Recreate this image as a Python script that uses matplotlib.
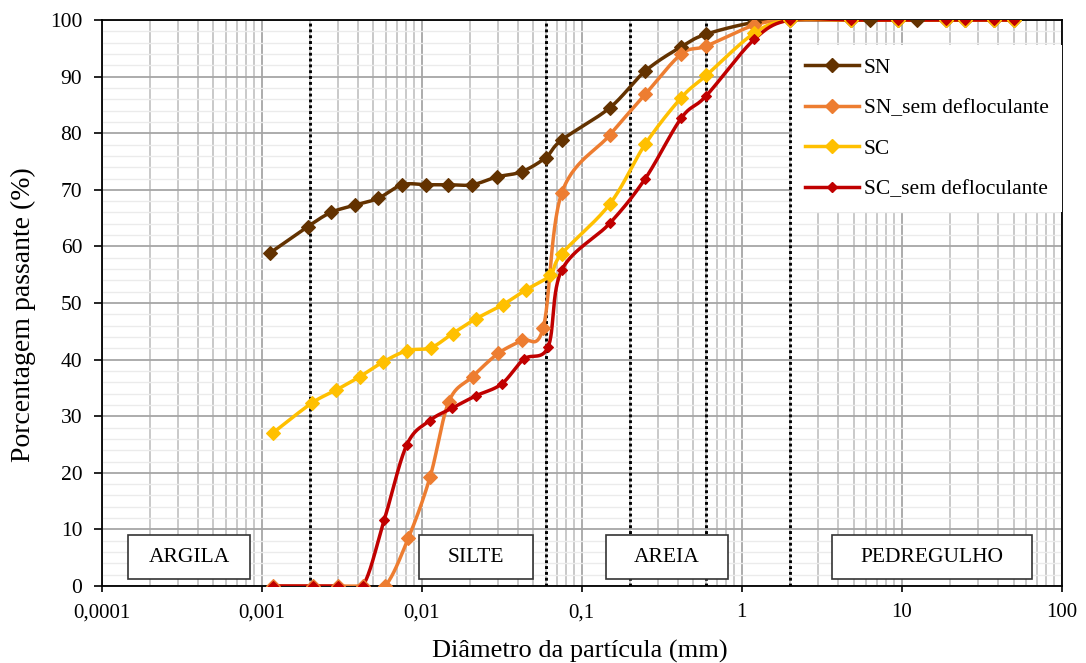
import matplotlib
matplotlib.use("Agg")
import matplotlib.pyplot as plt
from matplotlib.patches import Rectangle
import numpy as np

plt.rcParams['font.family'] = ['Liberation Serif', 'DejaVu Serif']

# diametro (mm) e porcentagem passante (%)
sn_d = [0.00112, 0.00194, 0.00271, 0.00383, 0.00535, 0.00756, 0.0107, 0.0147, 0.0207,
        0.0297, 0.0422, 0.0596, 0.075, 0.15, 0.25, 0.42, 0.6, 1.2, 2.0, 4.8, 6.3, 9.5,
        12.5, 19, 25, 38, 50]
sn_p = [58.8, 63.5, 66.0, 67.3, 68.5, 70.9, 70.9, 70.9, 70.9, 72.3, 73.2, 75.7, 78.8,
        84.5, 91.0, 95.3, 97.5, 99.6, 100, 100, 100, 100, 100, 100, 100, 100, 100]

snsd_d = [0.00118, 0.0021, 0.00301, 0.00428, 0.0059, 0.00824, 0.0113, 0.0148, 0.0208,
          0.0301, 0.0422, 0.0575, 0.075, 0.15, 0.25, 0.42, 0.6, 1.2, 2.0, 4.8, 9.5,
          19, 25, 38, 50]
snsd_p = [0, 0, 0, 0, 0, 8.4, 19.3, 32.6, 37.0, 41.1, 43.4, 45.6, 69.4, 79.7, 86.9,
          94.0, 95.4, 99.1, 100, 100, 100, 100, 100, 100, 100]

sc_d = [0.00117, 0.00205, 0.00291, 0.00411, 0.00575, 0.00813, 0.0114, 0.0156, 0.0218,
        0.0321, 0.0447, 0.0634, 0.075, 0.15, 0.25, 0.42, 0.6, 1.2, 2.0, 4.8, 9.5, 19,
        25, 38, 50]
sc_p = [27.0, 32.3, 34.6, 37.0, 39.6, 41.6, 42.1, 44.6, 47.2, 49.7, 52.3, 54.9, 58.7,
        67.5, 78.1, 86.3, 90.2, 97.7, 100, 100, 100, 100, 100, 100, 100]

scsd_d = [0.00118, 0.0021, 0.00301, 0.00428, 0.00584, 0.00806, 0.0112, 0.0154, 0.0218,
          0.0316, 0.0436, 0.0618, 0.075, 0.15, 0.25, 0.42, 0.6, 1.2, 2.0, 4.8, 9.5, 19,
          25, 38, 50]
scsd_p = [0, 0, 0, 0, 11.7, 24.9, 29.2, 31.4, 33.6, 35.7, 40.1, 42.3, 55.8, 64.1, 72.0,
          82.7, 86.6, 96.6, 100, 100, 100, 100, 100, 100, 100]

series = [
    ("SN", sn_d, sn_p, "#633200", 6.8),
    ("SN_sem defloculante", snsd_d, snsd_p, "#ED7D31", 6.8),
    ("SC", sc_d, sc_p, "#FFC000", 6.8),
    ("SC_sem defloculante", scsd_d, scsd_p, "#C00000", 5.6),
]

limites = [0.002, 0.06, 0.2, 0.6, 2.0]
xticks = [0.0001, 0.001, 0.01, 0.1, 1, 10, 100]
xticklabels = ["0,0001", "0,001", "0,01", "0,1", "1", "10", "100"]

# caixas de texto (x esquerdo, x direito, texto)
regioes = [(0.000147, 0.000846, "ARGILA"), (0.0096, 0.0497, "SILTE"),
           (0.142, 0.818, "AREIA"), (3.67, 65.0, "PEDREGULHO")]


def suave(d, p, n=30):
    # curva suavizada tipo Excel (Catmull-Rom em coordenadas de tela)
    u = np.log10(np.array(d)) * 160.0
    v = np.array(p) * 5.66
    P = np.column_stack([u, v])
    P = np.vstack([P[0], P, P[-1]])
    out = []
    for i in range(1, len(P) - 2):
        p0, p1, p2, p3 = P[i - 1], P[i], P[i + 1], P[i + 2]
        c1 = p1 + (p2 - p0) / 6.0
        c2 = p2 - (p3 - p1) / 6.0
        t = np.linspace(0, 1, n)[:, None]
        b = (1 - t) ** 3 * p1 + 3 * (1 - t) ** 2 * t * c1 + 3 * (1 - t) * t ** 2 * c2 + t ** 3 * p2
        out.append(b)
    out = np.vstack(out)
    return 10 ** (out[:, 0] / 160.0), out[:, 1] / 5.66


fig = plt.figure(figsize=(10.86, 6.63), dpi=100)
ax = fig.add_axes([0.0936, 0.1161, 0.9776 - 0.0936, 0.9698 - 0.1161])
ax.set_xscale("log")
ax.set_xlim(0.0001, 100)
ax.set_ylim(0, 100)

ax.set_yticks(np.arange(0, 101, 10))
ax.set_yticks(np.arange(0, 101, 2), minor=True)
ax.set_xticks(xticks)
ax.set_xticklabels(xticklabels)
ax.tick_params(axis="x", which="major", labelsize=15, length=4.5, width=1.2,
               direction="out", pad=8)
ax.tick_params(axis="y", which="major", labelsize=15.5, length=6, width=1.2,
               direction="out", pad=8)
ax.tick_params(axis="both", which="minor", length=0)
ax.xaxis.set_minor_locator(matplotlib.ticker.LogLocator(base=10, subs=np.arange(2, 10)))
ax.xaxis.set_minor_formatter(matplotlib.ticker.NullFormatter())

ax.grid(True, axis="y", which="minor", color="#ebebeb", lw=1.0, zorder=0)
ax.grid(True, axis="y", which="major", color="#a6a6a6", lw=1.3, zorder=0)
ax.grid(True, axis="x", which="minor", color="#c0c0c0", lw=1.2, zorder=0)
ax.grid(True, axis="x", which="major", color="#a6a6a6", lw=1.3, zorder=0)
ax.set_axisbelow(True)
for s in ax.spines.values():
    s.set_linewidth(1.3)
    s.set_color("black")

for xl in limites:
    ax.axvline(xl, color="black", ls=(0, (1, 1)), lw=2.1, zorder=2)

for nome, d, p, cor, ms in series:
    xs, ys = suave(d, p)
    ax.plot(xs, ys, color=cor, lw=2.5, zorder=3, solid_capstyle="round")
    ax.plot(d, p, ls="none", marker="D", ms=ms, color=cor, mec=cor, mew=0.8, zorder=4)
    ax.plot([], [], color=cor, lw=2.5, marker="D", ms=ms, mec=cor, label=nome)

for x0, x1, txt in regioes:
    ax.add_patch(Rectangle((x0, 1.2), x1 - x0, 7.9, facecolor="white",
                           edgecolor="#333333", lw=1.2, zorder=5))
    xc = 10 ** ((np.log10(x0) + np.log10(x1)) / 2)
    ax.text(xc, 5.1, txt, ha="center", va="center", fontsize=15.5, zorder=6)

leg = ax.legend(loc="upper left", bbox_to_anchor=(0.719, 0.956), fontsize=15.5,
                frameon=True, fancybox=False, framealpha=1, facecolor="white",
                edgecolor="none", handlelength=2.5, labelspacing=0.95,
                borderpad=0.6, borderaxespad=0, handletextpad=0.25)
leg.set_zorder(7)

ax.set_xlabel("Diâmetro da partícula (mm)", fontsize=19, va="center")
ax.xaxis.set_label_coords(0.498, -0.115)
ax.set_ylabel("Porcentagem passante (%)", fontsize=20, va="center")
ax.yaxis.set_label_coords(-0.082, 0.479)

fig.savefig("out.png", dpi=100)
